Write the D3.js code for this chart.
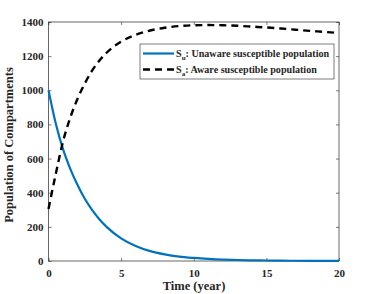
<!DOCTYPE html>
<html>
<head>
<meta charset="utf-8">
<script src="https://cdn.jsdelivr.net/npm/d3@7"></script>
<style>
  body { margin: 0; background: #fff; }
  svg text { font-family: "Liberation Serif", "Times New Roman", serif; font-weight: bold; fill: #262626; }
</style>
</head>
<body>
<svg id="plot" width="374" height="294"></svg>
<script>
// values
const timeSu = [0, 0.5, 1, 1.5, 2, 2.5, 3, 3.5, 4, 5, 6, 7, 8, 9, 10, 11, 12, 13, 14, 15, 16, 18, 20];
const unaware = [1000, 805, 655, 540, 445, 365, 300, 245, 200, 133, 88, 58, 39, 26, 18, 12, 8, 6, 4, 3, 2, 1, 1];
const timeSa = [0, 0.5, 1, 1.5, 2, 2.5, 3, 4, 5, 6, 7, 8, 9, 10, 11, 12, 13, 14, 15, 16, 17, 18, 19, 20];
const aware = [305, 510, 700, 840, 950, 1040, 1115, 1220, 1285, 1325, 1350, 1366, 1376, 1381, 1382, 1381, 1378, 1373, 1368, 1362, 1355, 1348, 1342, 1335];
const xTicks = [0, 5, 10, 15, 20];
const yTicks = [0, 200, 400, 600, 800, 1000, 1200, 1400];
const legendMain = ['S', 'S'];
const legendSub = ['u', 'a'];
const legendRest = [': Unaware susceptible population', ': Aware susceptible population'];

const svg = d3.select('#plot');
const margin = {top: 22, right: 35, bottom: 33, left: 48.5};
const width = 374, height = 294;
const w = width - margin.left - margin.right;
const h = height - margin.top - margin.bottom;
const g = svg.append('g').attr('transform', `translate(${margin.left},${margin.top})`);

const x = d3.scaleLinear().domain([0, 20]).range([0, w]);
const y = d3.scaleLinear().domain([0, 1400]).range([h, 0]);
const axisColor = '#262626';

function styleAxis(sel){
  sel.select('.domain').remove();
  sel.selectAll('line').attr('stroke', axisColor).attr('stroke-width', 0.6);
  sel.selectAll('text').style('font-size', '11px');
}

g.append('g').attr('transform', `translate(0,${h})`)
  .call(d3.axisBottom(x).tickValues(xTicks).tickSizeInner(-3).tickSizeOuter(0).tickPadding(8))
  .call(styleAxis);
g.append('g')
  .call(d3.axisLeft(y).tickValues(yTicks).tickFormat(d3.format('d')).tickSizeInner(-3).tickSizeOuter(0).tickPadding(5))
  .call(styleAxis);
g.append('g')
  .call(d3.axisTop(x).tickValues(xTicks).tickSizeInner(-3).tickSizeOuter(0).tickFormat(''))
  .call(styleAxis);
g.append('g').attr('transform', `translate(${w},0)`)
  .call(d3.axisRight(y).tickValues(yTicks).tickSizeInner(-3).tickSizeOuter(0).tickFormat(''))
  .call(styleAxis);

g.append('rect').attr('width', w).attr('height', h)
  .attr('fill', 'none').attr('stroke', axisColor).attr('stroke-width', 0.7);

const line = d3.line().x(d => x(d[0])).y(d => y(d[1])).curve(d3.curveMonotoneX);

g.append('path').datum(timeSu.map((t, i) => [t, unaware[i]]))
  .attr('d', line).attr('fill', 'none').attr('stroke', '#0072BD').attr('stroke-width', 2.2);
g.append('path').datum(timeSa.map((t, i) => [t, aware[i]]))
  .attr('d', line).attr('fill', 'none').attr('stroke', '#000').attr('stroke-width', 2.4)
  .attr('stroke-dasharray', '7,5');

// legend
const lg = svg.append('g').attr('transform', 'translate(140,44)');
lg.append('rect').attr('width', 194).attr('height', 35)
  .attr('fill', '#fff').attr('stroke', axisColor).attr('stroke-width', 0.6);
const styles = [{c: '#0072BD', d: null, wd: 2.2}, {c: '#000', d: '7,5', wd: 2.4}];
[0, 1].forEach(i => {
  const yy = 9.5 + i * 16;
  lg.append('line').attr('x1', 3).attr('x2', 34).attr('y1', yy).attr('y2', yy)
    .attr('stroke', styles[i].c).attr('stroke-width', styles[i].wd)
    .attr('stroke-dasharray', styles[i].d);
  const t = lg.append('text').attr('x', 36).attr('y', yy + 3.5).style('font-size', '10.1px');
  t.append('tspan').text(legendMain[i]);
  t.append('tspan').attr('dy', 2.5).style('font-size', '7px').text(legendSub[i]);
  t.append('tspan').attr('dy', -2.5).text(legendRest[i]);
});

// axis labels
svg.append('text').attr('x', 194).attr('y', 290)
  .attr('text-anchor', 'middle').style('font-size', '12.5px').text('Time (year)');
svg.append('text').attr('transform', 'translate(13,145) rotate(-90)')
  .attr('text-anchor', 'middle').style('font-size', '12.5px').text('Population of Compartments');
</script>
</body>
</html>
